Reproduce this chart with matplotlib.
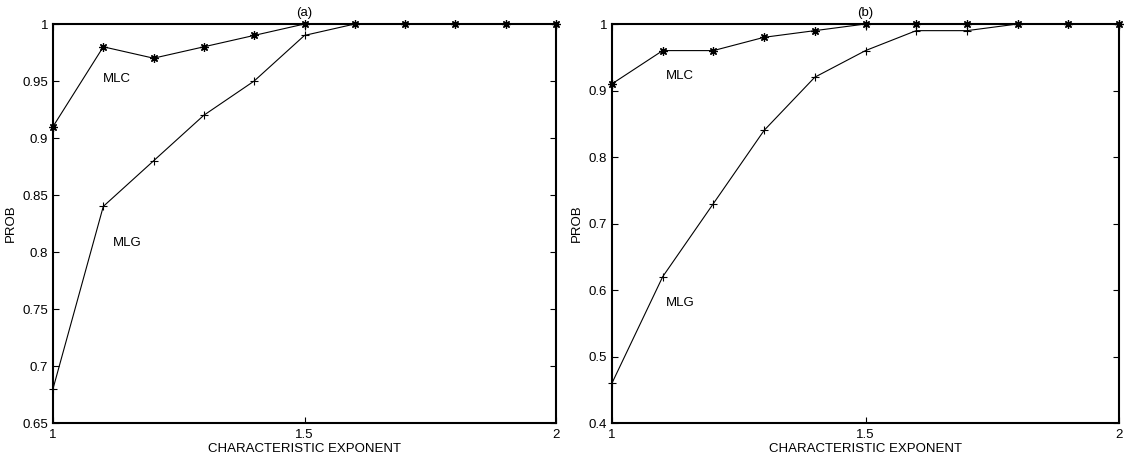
import numpy as np
import matplotlib
matplotlib.use("Agg")
import matplotlib.pyplot as plt

plt.rcParams['font.family'] = ['Liberation Sans', 'DejaVu Sans']
plt.rcParams['font.size'] = 9.5

alpha = [1.0, 1.1, 1.2, 1.3, 1.4, 1.5, 1.6, 1.7, 1.8, 1.9, 2.0]

mlc_a = [0.91, 0.98, 0.97, 0.98, 0.99, 1.00, 1.00, 1.00, 1.00, 1.00, 1.00]
mlg_a = [0.68, 0.84, 0.88, 0.92, 0.95, 0.99, 1.00, 1.00, 1.00, 1.00, 1.00]

mlc_b = [0.91, 0.96, 0.96, 0.98, 0.99, 1.00, 1.00, 1.00, 1.00, 1.00, 1.00]
mlg_b = [0.46, 0.62, 0.73, 0.84, 0.92, 0.96, 0.99, 0.99, 1.00, 1.00, 1.00]

panels = [
    dict(title="(a)", mlc=mlc_a, mlg=mlg_a, ylim=(0.65, 1.0),
         yticks=[0.65, 0.7, 0.75, 0.8, 0.85, 0.9, 0.95, 1.0],
         yticklabels=["0.65", "0.7", "0.75", "0.8", "0.85", "0.9", "0.95", "1"],
         mlc_pos=(1.10, 0.952), mlg_pos=(1.12, 0.808)),
    dict(title="(b)", mlc=mlc_b, mlg=mlg_b, ylim=(0.4, 1.0),
         yticks=[0.4, 0.5, 0.6, 0.7, 0.8, 0.9, 1.0],
         yticklabels=["0.4", "0.5", "0.6", "0.7", "0.8", "0.9", "1"],
         mlc_pos=(1.107, 0.922), mlg_pos=(1.107, 0.58)),
]

# MATLAB-style asterisk: plus and cross combined (8 arms)
asterisk = (8, 2, 0)

fig = plt.figure(figsize=(11.25, 4.61), dpi=100)
W, H = 1125, 461
rects = [(53, 24, 503, 399), (612, 24, 507, 399)]

for p, (x0, y0, w, h) in zip(panels, rects):
    ax = fig.add_axes([x0 / W, 1 - (y0 + h) / H, w / W, h / H])
    ax.plot(alpha, p["mlc"], color="black", lw=0.8, marker=asterisk, ms=6,
            mew=0.9, clip_on=False, zorder=3)
    ax.plot(alpha, p["mlg"], color="black", lw=0.8, marker="+", ms=6,
            mew=0.8, clip_on=False, zorder=3)
    ax.set_xlim(1, 2)
    ax.set_ylim(*p["ylim"])
    ax.set_xticks([1, 1.5, 2])
    ax.set_xticklabels(["1", "1.5", "2"])
    ax.set_yticks(p["yticks"])
    ax.set_yticklabels(p["yticklabels"])
    ax.tick_params(direction="in", top=True, right=True, length=4,
                   width=0.8, labelsize=9.5)
    ax.tick_params(axis="x", pad=4)
    ax.tick_params(axis="y", pad=3.5)
    for s in ax.spines.values():
        s.set_linewidth(1.5)
    ax.set_title(p["title"], fontsize=9.5, pad=6)
    ax.set_xlabel("CHARACTERISTIC EXPONENT", fontsize=9.5, labelpad=2)
    ax.set_ylabel("PROB", fontsize=9.5, labelpad=4)
    ax.text(*p["mlc_pos"], "MLC", fontsize=9.5, ha="left", va="center")
    ax.text(*p["mlg_pos"], "MLG", fontsize=9.5, ha="left", va="center")

fig.savefig("out.png", dpi=100)
